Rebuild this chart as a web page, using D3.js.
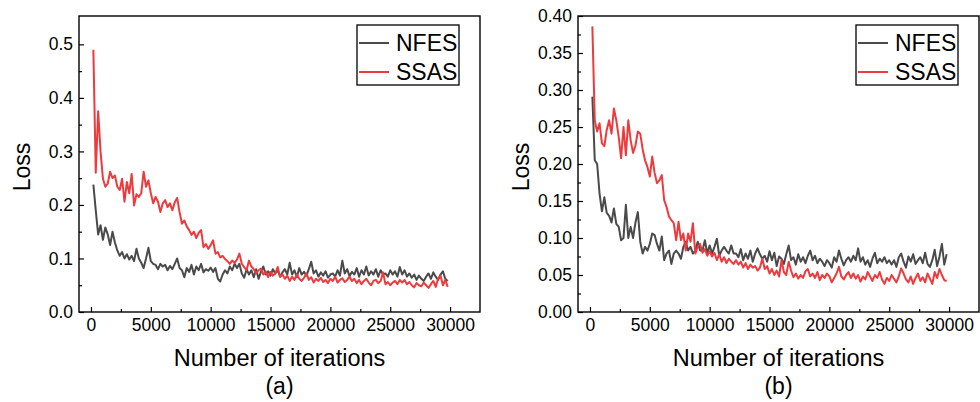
<!DOCTYPE html>
<html>
<head>
<meta charset="utf-8">
<script src="https://cdn.jsdelivr.net/npm/d3@7"></script>
<style>
  body { margin: 0; background: #fff; }
  svg { display: block; font-family: "Liberation Sans", Arial, sans-serif; }
</style>
</head>
<body>
<div id="chart"></div>
<script>
// loss sampled every 200 iterations, starting at iteration 200
const iterStart = 200;
const iterStep = 200;

const nfesA = [
  0.238, 0.190, 0.145, 0.162, 0.135, 0.158, 0.145, 0.125, 0.150, 0.130,
  0.115, 0.105, 0.112, 0.100, 0.108, 0.098, 0.105, 0.095, 0.118, 0.100,
  0.092, 0.082, 0.100, 0.120, 0.095, 0.090, 0.088, 0.080, 0.090, 0.085,
  0.088, 0.078, 0.086, 0.080, 0.090, 0.100, 0.082, 0.078, 0.065, 0.082,
  0.075, 0.088, 0.070, 0.085, 0.078, 0.090, 0.074, 0.080, 0.077, 0.083,
  0.075, 0.082, 0.062, 0.057, 0.070, 0.078, 0.072, 0.085, 0.078, 0.090,
  0.082, 0.090, 0.072, 0.064, 0.080, 0.070, 0.078, 0.065, 0.080, 0.062,
  0.075, 0.085, 0.070, 0.076, 0.068, 0.080, 0.072, 0.078, 0.066, 0.074,
  0.080, 0.070, 0.092, 0.070, 0.078, 0.065, 0.082, 0.070, 0.075, 0.068,
  0.080, 0.094, 0.072, 0.078, 0.066, 0.074, 0.068, 0.076, 0.064, 0.070,
  0.072, 0.066, 0.078, 0.068, 0.096, 0.072, 0.080, 0.067, 0.075, 0.070,
  0.082, 0.066, 0.078, 0.070, 0.085, 0.068, 0.076, 0.070, 0.080, 0.066,
  0.078, 0.070, 0.072, 0.066, 0.078, 0.070, 0.076, 0.066, 0.084, 0.070,
  0.078, 0.066, 0.072, 0.064, 0.070, 0.060, 0.068, 0.062, 0.058, 0.066,
  0.072, 0.062, 0.074, 0.066, 0.060, 0.070, 0.076, 0.062, 0.058
];
const ssasA = [
  0.490, 0.260, 0.375, 0.300, 0.249, 0.234, 0.240, 0.262, 0.250, 0.255,
  0.234, 0.228, 0.249, 0.206, 0.243, 0.222, 0.258, 0.199, 0.220, 0.215,
  0.222, 0.262, 0.234, 0.246, 0.222, 0.203, 0.215, 0.206, 0.187, 0.203,
  0.209, 0.196, 0.203, 0.190, 0.205, 0.213, 0.187, 0.165, 0.171, 0.160,
  0.153, 0.144, 0.150, 0.138, 0.148, 0.153, 0.121, 0.127, 0.118, 0.125,
  0.134, 0.109, 0.112, 0.102, 0.105, 0.099, 0.095, 0.090, 0.096, 0.092,
  0.098, 0.109, 0.090, 0.084, 0.078, 0.096, 0.085, 0.080, 0.072, 0.078,
  0.081, 0.070, 0.076, 0.065, 0.075, 0.068, 0.072, 0.084, 0.066, 0.070,
  0.062, 0.068, 0.058, 0.066, 0.060, 0.070, 0.062, 0.058, 0.064, 0.072,
  0.060, 0.065, 0.055, 0.062, 0.058, 0.064, 0.056, 0.060, 0.054, 0.062,
  0.058, 0.066, 0.055, 0.060, 0.063, 0.056, 0.060, 0.066, 0.058, 0.062,
  0.054, 0.060, 0.052, 0.058, 0.062, 0.055, 0.050, 0.058, 0.060, 0.054,
  0.058, 0.074, 0.052, 0.056, 0.050, 0.055, 0.058, 0.052, 0.060, 0.055,
  0.060, 0.052, 0.056, 0.050, 0.046, 0.054, 0.050, 0.048, 0.055, 0.050,
  0.045, 0.052, 0.058, 0.047, 0.062, 0.068, 0.050, 0.060, 0.047
];
const nfesB = [
  0.291, 0.205, 0.200, 0.160, 0.136, 0.155, 0.134, 0.130, 0.121, 0.140,
  0.119, 0.115, 0.097, 0.100, 0.145, 0.100, 0.115, 0.100, 0.121, 0.135,
  0.095, 0.079, 0.088, 0.083, 0.092, 0.106, 0.104, 0.092, 0.083, 0.102,
  0.070, 0.079, 0.083, 0.065, 0.079, 0.083, 0.079, 0.072, 0.088, 0.095,
  0.083, 0.088, 0.079, 0.083, 0.095, 0.083, 0.083, 0.097, 0.079, 0.090,
  0.079, 0.088, 0.099, 0.076, 0.083, 0.088, 0.083, 0.079, 0.090, 0.079,
  0.079, 0.074, 0.085, 0.070, 0.079, 0.072, 0.083, 0.068, 0.079, 0.086,
  0.078, 0.072, 0.076, 0.068, 0.082, 0.070, 0.080, 0.062, 0.075, 0.072,
  0.065, 0.078, 0.090, 0.070, 0.074, 0.064, 0.078, 0.068, 0.074, 0.066,
  0.076, 0.083, 0.070, 0.076, 0.066, 0.072, 0.068, 0.062, 0.070, 0.066,
  0.060, 0.074, 0.068, 0.083, 0.072, 0.063, 0.070, 0.074, 0.068, 0.076,
  0.070, 0.086, 0.068, 0.074, 0.064, 0.070, 0.061, 0.072, 0.080, 0.066,
  0.072, 0.068, 0.074, 0.066, 0.070, 0.064, 0.070, 0.061, 0.074, 0.079,
  0.068, 0.060, 0.075, 0.068, 0.078, 0.065, 0.070, 0.074, 0.066, 0.080,
  0.065, 0.061, 0.070, 0.084, 0.062, 0.075, 0.092, 0.064, 0.078
];
const ssasB = [
  0.386, 0.259, 0.244, 0.255, 0.228, 0.224, 0.246, 0.259, 0.241, 0.275,
  0.259, 0.237, 0.208, 0.250, 0.212, 0.259, 0.232, 0.215, 0.225, 0.244,
  0.241, 0.220, 0.205, 0.196, 0.183, 0.210, 0.188, 0.174, 0.178, 0.185,
  0.151, 0.142, 0.129, 0.124, 0.120, 0.097, 0.122, 0.097, 0.106, 0.083,
  0.106, 0.095, 0.120, 0.079, 0.088, 0.092, 0.080, 0.085, 0.076, 0.082,
  0.075, 0.080, 0.070, 0.078, 0.068, 0.074, 0.066, 0.072, 0.068, 0.065,
  0.070, 0.064, 0.068, 0.060, 0.066, 0.058, 0.064, 0.060, 0.062, 0.056,
  0.060, 0.072, 0.058, 0.062, 0.052, 0.058, 0.050, 0.056, 0.048, 0.070,
  0.054, 0.050, 0.068, 0.056, 0.047, 0.052, 0.045, 0.050, 0.046, 0.055,
  0.058, 0.048, 0.052, 0.046, 0.054, 0.043, 0.050, 0.046, 0.052, 0.048,
  0.040, 0.046, 0.052, 0.061, 0.048, 0.044, 0.050, 0.054, 0.046, 0.052,
  0.045, 0.050, 0.041, 0.048, 0.044, 0.054, 0.048, 0.042, 0.050, 0.046,
  0.054, 0.044, 0.038, 0.046, 0.042, 0.050, 0.045, 0.040, 0.048, 0.059,
  0.052, 0.044, 0.040, 0.048, 0.038, 0.046, 0.052, 0.042, 0.047, 0.040,
  0.052, 0.045, 0.038, 0.054, 0.046, 0.058, 0.050, 0.043, 0.042
];

const seriesNames = ["NFES", "SSAS"];
const xTicks = [0, 5000, 10000, 15000, 20000, 25000, 30000];
const yTicksA = [0, 0.1, 0.2, 0.3, 0.4, 0.5];
const yTicksB = [0, 0.05, 0.10, 0.15, 0.20, 0.25, 0.30, 0.35, 0.40];

const colors = { NFES: "#4a4a4a", SSAS: "#ef3a3d" };

const W = 980, H = 402;
const svg = d3.select("#chart").append("svg")
  .attr("width", W)
  .attr("height", H);

const panels = [
  { left: 79, right: 480, yMax: 0.553, yTicks: yTicksA, yFmt: ".1f", label: "(a)",
    data: { NFES: nfesA, SSAS: ssasA } },
  { left: 578, right: 979, yMax: 0.40, yTicks: yTicksB, yFmt: ".2f", label: "(b)",
    data: { NFES: nfesB, SSAS: ssasB } }
];
const plotTop = 16, plotBottom = 312;

panels.forEach(function (p) {
  const x = d3.scaleLinear().domain([-1000, 32500]).range([p.left, p.right]);
  const y = d3.scaleLinear().domain([0, p.yMax]).range([plotBottom, plotTop]);
  const g = svg.append("g");

  // minor ticks
  const xMinor = xTicks.slice(0, -1).map(function (t) { return t + 2500; });
  const yStep = p.yTicks[1] - p.yTicks[0];
  const yMinor = p.yTicks.slice(0, -1).map(function (t) { return t + yStep / 2; });

  g.append("g")
    .attr("transform", "translate(0," + plotBottom + ")")
    .call(d3.axisBottom(x).tickValues(xMinor).tickSizeInner(-3).tickSizeOuter(0).tickFormat(""))
    .call(function (a) { a.select(".domain").remove(); });
  g.append("g")
    .attr("transform", "translate(" + p.left + ",0)")
    .call(d3.axisLeft(y).tickValues(yMinor).tickSizeInner(-3).tickSizeOuter(0).tickFormat(""))
    .call(function (a) { a.select(".domain").remove(); });

  // major ticks + labels
  const xAxis = g.append("g")
    .attr("transform", "translate(0," + plotBottom + ")")
    .call(d3.axisBottom(x).tickValues(xTicks).tickSizeInner(-5).tickSizeOuter(0).tickPadding(7).tickFormat(d3.format("d")));
  xAxis.select(".domain").remove();
  const yAxis = g.append("g")
    .attr("transform", "translate(" + p.left + ",0)")
    .call(d3.axisLeft(y).tickValues(p.yTicks).tickSizeInner(-5).tickSizeOuter(0).tickPadding(6).tickFormat(d3.format(p.yFmt)));
  yAxis.select(".domain").remove();

  g.selectAll(".tick line").attr("stroke", "#000").attr("stroke-width", 1.2);
  g.selectAll(".tick text").attr("font-size", 17.5).attr("fill", "#000")
    .attr("font-family", "Liberation Sans, Arial, sans-serif");

  // series
  const line = d3.line()
    .x(function (d, i) { return x(iterStart + i * iterStep); })
    .y(function (d) { return y(d); });

  seriesNames.forEach(function (name) {
    g.append("path")
      .datum(p.data[name])
      .attr("fill", "none")
      .attr("stroke", colors[name])
      .attr("stroke-width", 2)
      .attr("stroke-linejoin", "round")
      .attr("d", line);
  });

  // frame
  g.append("rect")
    .attr("x", p.left).attr("y", plotTop)
    .attr("width", p.right - p.left).attr("height", plotBottom - plotTop)
    .attr("fill", "none").attr("stroke", "#000").attr("stroke-width", 1.4);

  // axis titles
  const cx = (p.left + p.right) / 2;
  g.append("text")
    .attr("x", cx).attr("y", 366)
    .attr("text-anchor", "middle")
    .attr("font-size", 23.5)
    .text("Number of iterations");
  g.append("text")
    .attr("x", cx).attr("y", 394)
    .attr("text-anchor", "middle")
    .attr("font-size", 23)
    .text(p.label);
  g.append("text")
    .attr("transform", "translate(" + (p.left - 49) + "," + ((plotTop + plotBottom) / 2 + 3) + ") rotate(-90)")
    .attr("text-anchor", "middle")
    .attr("font-size", 23)
    .text("Loss");

  // legend
  const lx = p.right - 123, ly = 25;
  const leg = g.append("g").attr("transform", "translate(" + lx + "," + ly + ")");
  leg.append("rect")
    .attr("width", 102).attr("height", 60)
    .attr("fill", "#fff").attr("stroke", "#000").attr("stroke-width", 1.3);
  seriesNames.forEach(function (name, i) {
    const yy = 18 + i * 29;
    leg.append("line")
      .attr("x1", 2).attr("x2", 32).attr("y1", yy).attr("y2", yy)
      .attr("stroke", colors[name]).attr("stroke-width", 2);
    leg.append("text")
      .attr("x", 39).attr("y", yy + 8)
      .attr("font-size", 23)
      .text(name);
  });
});
</script>
</body>
</html>
